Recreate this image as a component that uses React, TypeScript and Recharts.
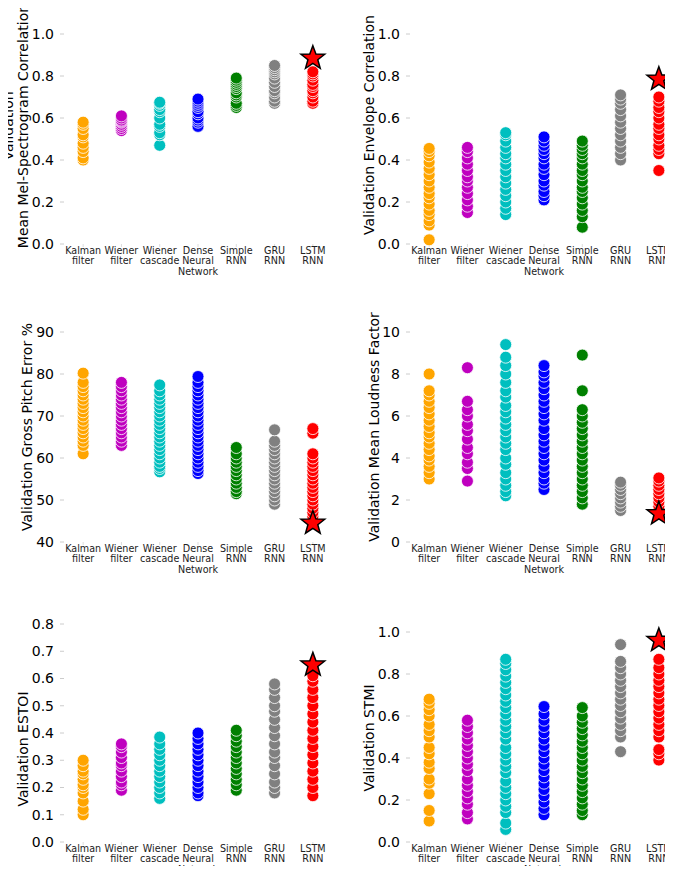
import React from "react";
import { ScatterChart, Scatter, XAxis, YAxis } from "recharts";

const FONT = "'DejaVu Sans', sans-serif";

const CATEGORIES = [
  "Kalman\nfilter",
  "Wiener\nfilter",
  "Wiener\ncascade",
  "Dense\nNeural\nNetwork",
  "Simple\nRNN",
  "GRU\nRNN",
  "LSTM\nRNN",
];

const COLORS = ["#FFA500", "#BF00BF", "#00BFBF", "#0000FF", "#008000", "#808080", "#FF0000"];

// one row per model, same order as CATEGORIES
const MEL_CORR: number[][] = [
  [0.4, 0.41, 0.44, 0.46, 0.48, 0.51, 0.52, 0.55, 0.57, 0.58],
  [0.54, 0.55, 0.56, 0.57, 0.58, 0.585, 0.59, 0.6, 0.61],
  [0.47, 0.52, 0.53, 0.56, 0.57, 0.6, 0.63, 0.64, 0.66, 0.67, 0.675],
  [0.56, 0.58, 0.59, 0.6, 0.62, 0.63, 0.65, 0.66, 0.67, 0.68, 0.69],
  [0.65, 0.66, 0.67, 0.7, 0.71, 0.72, 0.74, 0.75, 0.76, 0.77, 0.78, 0.79],
  [0.67, 0.68, 0.7, 0.72, 0.73, 0.75, 0.77, 0.79, 0.81, 0.82, 0.83, 0.84, 0.85],
  [0.67, 0.68, 0.7, 0.72, 0.73, 0.75, 0.76, 0.78, 0.8, 0.81, 0.82],
];
const MEL_BEST = 0.885;

const ENV_CORR: number[][] = [
  [0.02, 0.09, 0.11, 0.14, 0.16, 0.19, 0.22, 0.24, 0.27, 0.3, 0.33, 0.36, 0.39, 0.42, 0.44, 0.455],
  [0.15, 0.18, 0.21, 0.24, 0.27, 0.3, 0.32, 0.35, 0.38, 0.41, 0.44, 0.46],
  [0.14, 0.17, 0.2, 0.23, 0.26, 0.29, 0.32, 0.35, 0.38, 0.41, 0.43, 0.46, 0.49, 0.52, 0.53],
  [0.21, 0.23, 0.25, 0.28, 0.3, 0.33, 0.36, 0.38, 0.41, 0.43, 0.45, 0.47, 0.49, 0.51],
  [0.08, 0.13, 0.16, 0.19, 0.22, 0.25, 0.27, 0.3, 0.33, 0.35, 0.38, 0.41, 0.43, 0.45, 0.47, 0.49],
  [0.4, 0.43, 0.46, 0.49, 0.52, 0.55, 0.58, 0.61, 0.64, 0.67, 0.69, 0.71],
  [0.35, 0.43, 0.45, 0.47, 0.5, 0.52, 0.55, 0.57, 0.6, 0.63, 0.65, 0.68, 0.7],
];
const ENV_BEST = 0.785;

const PITCH_ERR: number[][] = [
  [61, 63, 64, 65, 66, 67, 68, 69, 70, 71, 72, 73, 74, 75, 76, 77, 78, 80.2],
  [63, 64, 65, 66, 67, 68, 69, 70, 71, 72, 73, 74, 75, 76, 77, 78],
  [56.7, 57.5, 58, 59, 60, 61, 62, 63, 64, 65, 66, 67, 68, 69, 70, 71, 72, 73, 74, 75, 76, 77.4],
  [56.3, 57, 58, 59, 60, 61, 62, 63, 64, 65, 66, 67, 68, 69, 70, 71, 72, 73, 74, 75, 76, 77, 78, 79.4],
  [51.5, 52, 53, 54, 55, 56, 57, 58, 59, 60, 61, 62.5],
  [49, 50, 51, 52, 53, 54, 55, 56, 57, 58, 59, 60, 61, 62, 63, 64, 66.7],
  [46, 47, 48, 49, 50, 51, 52, 53, 54, 55, 56, 57, 58, 59, 60, 61, 65.9, 67],
];
const PITCH_BEST = 44.5;

const LOUDNESS: number[][] = [
  [3.0, 3.3, 3.6, 3.9, 4.1, 4.4, 4.7, 5.0, 5.2, 5.5, 5.8, 6.1, 6.4, 6.7, 7.0, 7.2, 8.0],
  [2.9, 3.5, 3.8, 4.2, 4.5, 4.9, 5.3, 5.6, 6.0, 6.3, 6.7, 8.3],
  [2.2, 2.4, 2.7, 3.0, 3.3, 3.7, 4.0, 4.4, 4.7, 5.0, 5.3, 5.6, 5.9, 6.2, 6.5, 6.9, 7.2, 7.6, 8.0, 8.4, 8.8, 9.4],
  [2.5, 2.8, 3.0, 3.3, 3.6, 3.9, 4.2, 4.5, 4.8, 5.1, 5.4, 5.8, 6.1, 6.4, 6.7, 7.0, 7.3, 7.6, 7.9, 8.1, 8.4],
  [1.8, 2.1, 2.4, 2.7, 3.0, 3.3, 3.6, 3.9, 4.2, 4.5, 4.8, 5.1, 5.4, 5.7, 6.0, 6.3, 7.2, 8.9],
  [1.5, 1.7, 1.9, 2.1, 2.3, 2.5, 2.7, 2.85],
  [1.7, 1.9, 2.1, 2.3, 2.5, 2.7, 2.9, 3.05],
];
const LOUDNESS_BEST = 1.35;

const ESTOI: number[][] = [
  [0.1, 0.12, 0.15, 0.18, 0.2, 0.21, 0.23, 0.25, 0.26, 0.28, 0.3],
  [0.19, 0.21, 0.22, 0.24, 0.26, 0.28, 0.29, 0.31, 0.33, 0.35, 0.36],
  [0.16, 0.18, 0.2, 0.22, 0.24, 0.26, 0.28, 0.3, 0.32, 0.34, 0.36, 0.385],
  [0.17, 0.18, 0.2, 0.22, 0.24, 0.26, 0.28, 0.3, 0.32, 0.34, 0.36, 0.38, 0.4],
  [0.19, 0.21, 0.23, 0.25, 0.27, 0.29, 0.31, 0.33, 0.35, 0.37, 0.39, 0.41],
  [0.18, 0.2, 0.22, 0.25, 0.28, 0.31, 0.33, 0.36, 0.39, 0.42, 0.45, 0.48, 0.5, 0.53, 0.56, 0.58],
  [0.17, 0.2, 0.23, 0.26, 0.29, 0.32, 0.35, 0.38, 0.41, 0.44, 0.47, 0.5, 0.53, 0.56, 0.59, 0.61],
];
const ESTOI_BEST = 0.65;

const STMI: number[][] = [
  [0.1, 0.15, 0.23, 0.28, 0.3, 0.35, 0.38, 0.42, 0.45, 0.5, 0.53, 0.56, 0.6, 0.63, 0.66, 0.68],
  [0.11, 0.14, 0.18, 0.21, 0.24, 0.27, 0.3, 0.34, 0.37, 0.4, 0.43, 0.46, 0.49, 0.52, 0.55, 0.58],
  [0.06, 0.09, 0.14, 0.17, 0.2, 0.23, 0.26, 0.29, 0.33, 0.36, 0.39, 0.42, 0.45, 0.49, 0.52, 0.55, 0.58, 0.61, 0.64, 0.67, 0.7, 0.73, 0.76, 0.79, 0.82, 0.85, 0.87],
  [0.13, 0.16, 0.19, 0.22, 0.25, 0.28, 0.31, 0.34, 0.37, 0.4, 0.43, 0.46, 0.49, 0.52, 0.55, 0.58, 0.61, 0.645],
  [0.13, 0.15, 0.18, 0.21, 0.24, 0.27, 0.3, 0.33, 0.36, 0.39, 0.42, 0.45, 0.48, 0.51, 0.54, 0.57, 0.6, 0.64],
  [0.43, 0.5, 0.53, 0.56, 0.59, 0.62, 0.65, 0.68, 0.71, 0.74, 0.77, 0.8, 0.83, 0.86, 0.94],
  [0.39, 0.42, 0.44, 0.5, 0.53, 0.56, 0.59, 0.62, 0.65, 0.68, 0.71, 0.74, 0.77, 0.8, 0.83, 0.87],
];
const STMI_BEST = 0.96;

const TICKS_UNIT = [0, 0.2, 0.4, 0.6, 0.8, 1.0];
const TICKS_PITCH = [40, 50, 60, 70, 80, 90];
const TICKS_LOUD = [0, 2, 4, 6, 8, 10];
const TICKS_ESTOI = [0, 0.1, 0.2, 0.3, 0.4, 0.5, 0.6, 0.7, 0.8];

const CategoryTick = (props: any) => {
  const { x, y, payload } = props;
  const lines = CATEGORIES[payload.value].split("\n");
  return (
    <text x={x} y={y} textAnchor="middle" fontSize={9.6} fontFamily={FONT} fill="#222">
      {lines.map((l, i) => (
        <tspan key={i} x={x} dy={i === 0 ? 6.6 : 10.8}>
          {l}
        </tspan>
      ))}
    </text>
  );
};

const starPoints = (cx: number, cy: number, R: number, r: number) => {
  const pts: string[] = [];
  for (let i = 0; i < 10; i++) {
    const rad = i % 2 === 0 ? R : r;
    const a = -Math.PI / 2 + (i * Math.PI) / 5;
    pts.push(`${cx + rad * Math.cos(a)},${cy + rad * Math.sin(a)}`);
  }
  return pts.join(" ");
};

type PanelProps = {
  values: number[][];
  best: number;
  ticks: number[];
  decimals: number;
  labelLines: string[];
  labelX: number[];
  labelY: number;
  left: number;
  top: number;
  width: number;
  height: number;
  plotTop: number;
  plotBottom: number;
  yAxisWidth: number;
  rightMargin: number;
};

const Panel = (p: PanelProps) => {
  const label = () => (
    <g>
      {p.labelLines.map((t, i) => (
        <text
          key={i}
          x={p.labelX[i]}
          y={p.labelY}
          transform={`rotate(-90 ${p.labelX[i]} ${p.labelY})`}
          textAnchor="middle"
          dominantBaseline="central"
          fontSize={14}
          fontFamily={FONT}
          fill="#000"
        >
          {t}
        </text>
      ))}
    </g>
  );
  return (
    <div style={{ position: "absolute", left: p.left, top: p.top }}>
      <ScatterChart
        width={p.width}
        height={p.height}
        margin={{ top: p.plotTop, right: p.rightMargin, bottom: 0, left: 0 }}
      >
        <XAxis
          type="number"
          dataKey="x"
          domain={[-0.5, 6.5]}
          ticks={[0, 1, 2, 3, 4, 5, 6]}
          interval={0}
          height={p.height - p.plotBottom}
          axisLine={false}
          tickLine={{ stroke: "#dddddd" }}
          tickSize={3}
          tickMargin={0}
          tick={<CategoryTick />}
        />
        <YAxis
          type="number"
          dataKey="y"
          domain={[p.ticks[0], p.ticks[p.ticks.length - 1]]}
          ticks={p.ticks}
          interval={0}
          width={p.yAxisWidth}
          axisLine={false}
          tickLine={{ stroke: "#cccccc" }}
          tickSize={4}
          tickMargin={6}
          tick={{ fontSize: 14, fill: "#000", fontFamily: FONT }}
          tickFormatter={(v: number) => v.toFixed(p.decimals)}
          label={{ value: p.labelLines.join(" "), content: label }}
        />
        {p.values.map((vals, i) => (
          <Scatter
            key={i}
            data={vals.map((v) => ({ x: i, y: v }))}
            isAnimationActive={false}
            shape={(s: any) => (
              <circle cx={s.cx} cy={s.cy} r={6} fill={COLORS[i]} stroke="#ffffff" strokeWidth={0.8} />
            )}
          />
        ))}
        <Scatter
          data={[{ x: 6, y: p.best }]}
          isAnimationActive={false}
          shape={(s: any) => (
            <polygon
              points={starPoints(s.cx, s.cy, 12.5, 5.2)}
              fill="#FF0000"
              stroke="#000"
              strokeWidth={1.5}
              strokeLinejoin="miter"
            />
          )}
        />
      </ScatterChart>
    </div>
  );
};

const App = () => {
  return (
    <div
      style={{
        position: "relative",
        width: 673,
        height: 874,
        overflow: "hidden",
        margin: -8,
        background: "#fff",
      }}
    >
      <Panel
        values={MEL_CORR}
        best={MEL_BEST}
        ticks={TICKS_UNIT}
        decimals={1}
        labelLines={["Validation", "Mean Mel-Spectrogram Correlation"]}
        labelX={[7.5, 23]}
        labelY={126}
        left={0}
        top={0}
        width={336}
        height={290}
        plotTop={34}
        plotBottom={244}
        yAxisWidth={64}
        rightMargin={4}
      />
      <Panel
        values={ENV_CORR}
        best={ENV_BEST}
        ticks={TICKS_UNIT}
        decimals={1}
        labelLines={["Validation Envelope Correlation"]}
        labelX={[33]}
        labelY={125}
        left={336}
        top={0}
        width={350}
        height={290}
        plotTop={34}
        plotBottom={244}
        yAxisWidth={74}
        rightMargin={8}
      />
      <Panel
        values={PITCH_ERR}
        best={PITCH_BEST}
        ticks={TICKS_PITCH}
        decimals={0}
        labelLines={["Validation Gross Pitch Error %"]}
        labelX={[27]}
        labelY={137}
        left={0}
        top={290}
        width={336}
        height={290}
        plotTop={42}
        plotBottom={252}
        yAxisWidth={64}
        rightMargin={4}
      />
      <Panel
        values={LOUDNESS}
        best={LOUDNESS_BEST}
        ticks={TICKS_LOUD}
        decimals={0}
        labelLines={["Validation Mean Loudness Factor"]}
        labelX={[38]}
        labelY={137}
        left={336}
        top={290}
        width={350}
        height={290}
        plotTop={42}
        plotBottom={252}
        yAxisWidth={74}
        rightMargin={8}
      />
      <Panel
        values={ESTOI}
        best={ESTOI_BEST}
        ticks={TICKS_ESTOI}
        decimals={1}
        labelLines={["Validation ESTOI"]}
        labelX={[23]}
        labelY={169}
        left={0}
        top={580}
        width={336}
        height={294}
        plotTop={44}
        plotBottom={262}
        yAxisWidth={64}
        rightMargin={4}
      />
      <Panel
        values={STMI}
        best={STMI_BEST}
        ticks={TICKS_UNIT}
        decimals={1}
        labelLines={["Validation STMI"]}
        labelX={[33]}
        labelY={158}
        left={336}
        top={580}
        width={350}
        height={294}
        plotTop={52}
        plotBottom={262}
        yAxisWidth={74}
        rightMargin={8}
      />
    </div>
  );
};

export default App;
